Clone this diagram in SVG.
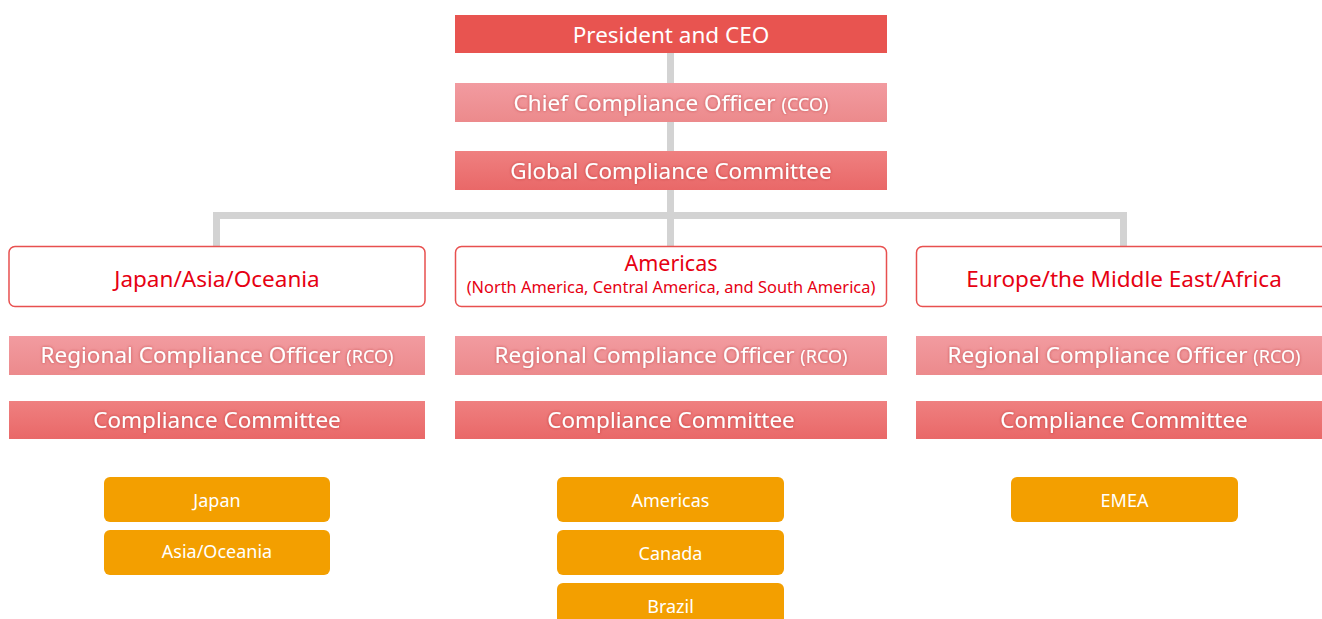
<svg xmlns="http://www.w3.org/2000/svg" width="1322" height="619" viewBox="0 0 1322 619">
<defs>
<linearGradient id="gPink" x1="0" y1="0" x2="0" y2="1"><stop offset="0" stop-color="#F29BA0"/><stop offset="1" stop-color="#EC8A8C"/></linearGradient>
<linearGradient id="gRed" x1="0" y1="0" x2="0" y2="1"><stop offset="0" stop-color="#EF8080"/><stop offset="1" stop-color="#E96868"/></linearGradient>
<filter id="glow" x="-10%" y="-50%" width="120%" height="200%"><feDropShadow dx="0" dy="0" stdDeviation="1.6" flood-color="#A02020" flood-opacity="0.55"/></filter>
</defs>
<style>
.t{font-family:"Noto Sans","Open Sans","Liberation Sans",sans-serif;text-anchor:middle}
.w{fill:#FFFFFF}
.big{font-size:22.5px}
.par{font-size:18px}
.sub{font-size:16.4px}
.sm{font-size:18px}
.red{fill:#E60012}
.sh{filter:url(#glow)}
.reg{fill:#FFFFFF;stroke:#E8504F;stroke-width:1.5}
.org{fill:#F39F00}
.ceo{fill:#E85450}
.pk{fill:url(#gPink)}
.rd{fill:url(#gRed)}
.conn{fill:none;stroke:#D3D3D3;stroke-width:7}
</style>
<rect width="1322" height="619" fill="#FFFFFF"/>
<g id="connectors">
<line class="conn" x1="670.5" y1="53" x2="670.5" y2="246"/>
<path class="conn" d="M216.5,246 V215.5 H1123.5 V246"/>
</g>
<g id="ceo"><rect class="ceo" x="455" y="15" width="432" height="38"/><text class="t w big" x="671" y="43">President and CEO</text></g>
<g id="cco"><rect class="pk" x="455" y="83" width="432" height="39"/><text class="t w big sh" x="671" y="111">Chief Compliance Officer <tspan class="par">(CCO)</tspan></text></g>
<g id="gcc"><rect class="rd" x="455" y="151" width="432" height="39"/><text class="t w big sh" x="671" y="179">Global Compliance Committee</text></g>

<g id="region-jao"><rect class="reg" x="9" y="246.5" width="416" height="60" rx="6"/><text class="t red big" x="217" y="287">Japan/Asia/Oceania</text></g>
<g id="region-am"><rect class="reg" x="455.5" y="246.5" width="431" height="60" rx="6"/><text class="t red" style="font-size:21.5px" x="671" y="271">Americas</text><text class="t red sub" x="671" y="293">(North America, Central America, and South America)</text></g>
<g id="region-emea"><rect class="reg" x="916.5" y="246.5" width="416" height="60" rx="6"/><text class="t red big" x="1124" y="287">Europe/the Middle East/Africa</text></g>

<g id="rco-jao"><rect class="pk" x="9" y="336" width="416" height="39"/><text class="t w big sh" x="217" y="363">Regional Compliance Officer <tspan class="par">(RCO)</tspan></text></g>
<g id="rco-am"><rect class="pk" x="455" y="336" width="432" height="39"/><text class="t w big sh" x="671" y="363">Regional Compliance Officer <tspan class="par">(RCO)</tspan></text></g>
<g id="rco-emea"><rect class="pk" x="916" y="336" width="416" height="39"/><text class="t w big sh" x="1124" y="363">Regional Compliance Officer <tspan class="par">(RCO)</tspan></text></g>

<g id="cc-jao"><rect class="rd" x="9" y="401" width="416" height="38"/><text class="t w big sh" x="217" y="428">Compliance Committee</text></g>
<g id="cc-am"><rect class="rd" x="455" y="401" width="432" height="38"/><text class="t w big sh" x="671" y="428">Compliance Committee</text></g>
<g id="cc-emea"><rect class="rd" x="916" y="401" width="416" height="38"/><text class="t w big sh" x="1124" y="428">Compliance Committee</text></g>

<g id="o-japan"><rect class="org" x="104" y="477" width="226" height="45" rx="6"/><text class="t w sm" x="217" y="507">Japan</text></g>
<g id="o-asia"><rect class="org" x="104" y="530" width="226" height="45" rx="6"/><text class="t w sm" x="217" y="558">Asia/Oceania</text></g>
<g id="o-americas"><rect class="org" x="557" y="477" width="227" height="45" rx="6"/><text class="t w sm" x="670.5" y="507">Americas</text></g>
<g id="o-canada"><rect class="org" x="557" y="530" width="227" height="45" rx="6"/><text class="t w sm" x="670.5" y="560">Canada</text></g>
<g id="o-brazil"><rect class="org" x="557" y="583" width="227" height="45" rx="6"/><text class="t w sm" x="670.5" y="613">Brazil</text></g>
<g id="o-emea"><rect class="org" x="1011" y="477" width="227" height="45" rx="6"/><text class="t w sm" x="1124.5" y="507">EMEA</text></g>
</svg>
